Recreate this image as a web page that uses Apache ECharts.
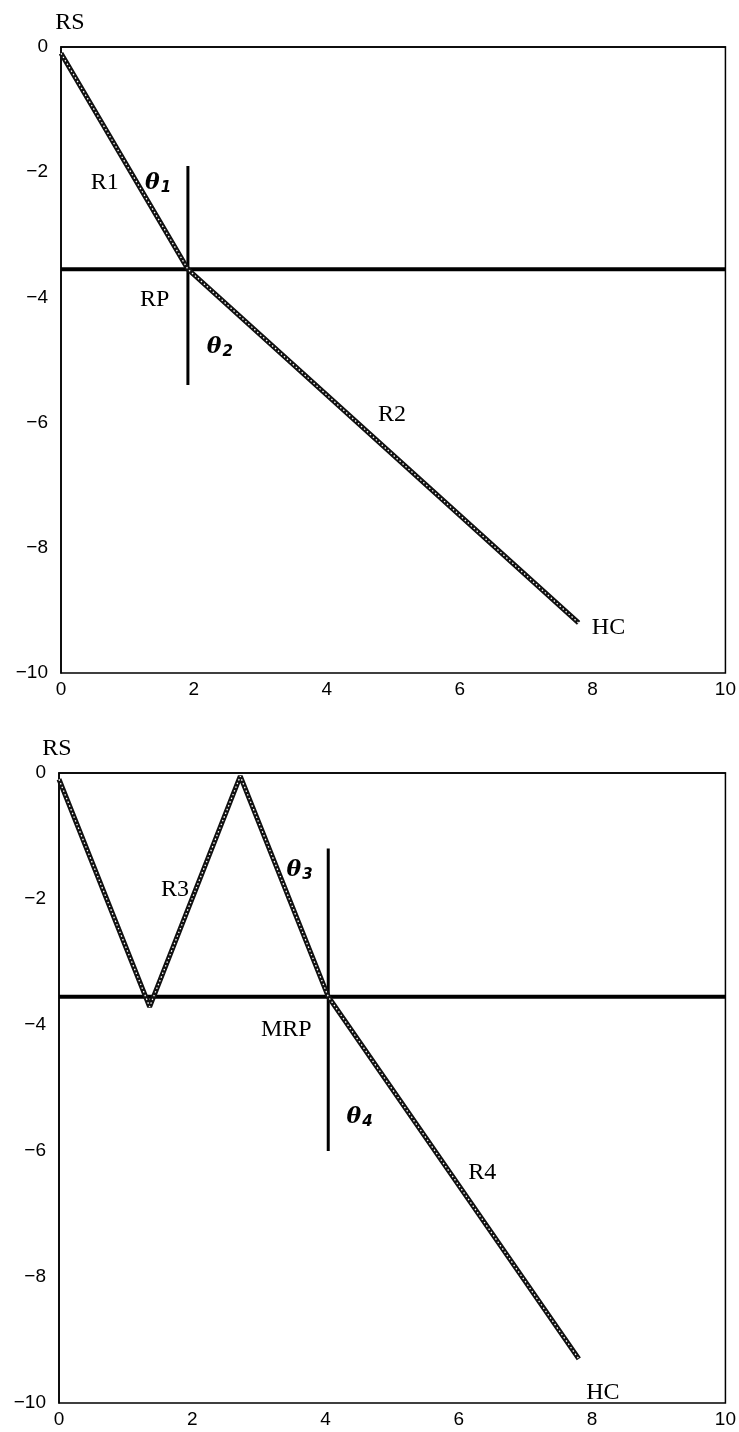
<!DOCTYPE html>
<html>
<head>
<meta charset="utf-8">
<script src="https://cdn.jsdelivr.net/npm/echarts@6/dist/echarts.min.js"></script>
<style>
  html, body { margin: 0; padding: 0; background: #fff; }
  #chart { width: 739px; height: 1432px; }
</style>
</head>
<body>
<div id="chart"></div>
<script>
// Axis ticks (both panels share the same ranges)
const xTicks = [0, 2, 4, 6, 8, 10];
const yTicks = [0, -2, -4, -6, -8, -10];

// Upper panel: RS path R1 -> RP -> R2 -> HC
const pathAX = [0, 1.91, 7.79];
const pathAY = [-0.1, -3.55, -9.2];

// Lower panel: RS path with R3 oscillation, MRP, then R4 -> HC
const pathBX = [0, 1.36, 2.72, 4.04, 7.8];
const pathBY = [-0.1, -3.71, -0.05, -3.55, -9.3];

// Reference level (horizontal line) shared by both panels
const refLevel = -3.55;

// Vertical reference lines: [x, yTop, yBottom]
const vLineA = [1.91, -1.9, -5.4];
const vLineB = [4.04, -1.2, -6.0];

// Annotations: [text, x, y]
const notesA = [
  ['R1', 0.66, -2.17], ['RP', 1.41, -4.04], ['R2', 4.98, -5.88], ['HC', 8.24, -9.28]
];
const thetaA = [['1', 1.46, -2.17], ['2', 2.39, -4.79]];
const notesB = [
  ['R3', 1.74, -1.86], ['MRP', 3.41, -4.08], ['R4', 6.35, -6.35], ['HC', 8.16, -9.83]
];
const thetaB = [['3', 3.61, -1.54], ['4', 4.51, -5.46]];

const zip = (xs, ys) => xs.map((x, i) => [x, ys[i]]);

const tickFont = { fontFamily: 'Liberation Sans, Arial, sans-serif', fontSize: 19, color: '#000' };
const serif = 'Liberation Serif, Times New Roman, serif';
const fmt = v => (v < 0 ? '\u2212' + Math.abs(v) : String(v));

function xAxisFor(gridIndex) {
  return {
    type: 'value', gridIndex, min: 0, max: 10, interval: 2,
    axisLine: { show: true, lineStyle: { color: '#000', width: 1.5 } },
    axisTick: { show: false }, splitLine: { show: false },
    axisLabel: Object.assign({ margin: 7, formatter: fmt }, tickFont)
  };
}
function yAxisFor(gridIndex, nameShift) {
  return {
    type: 'value', gridIndex, min: -10, max: 0, interval: 2,
    name: 'RS', nameLocation: 'end', nameGap: 12,
    nameTextStyle: { fontFamily: serif, fontSize: 24, color: '#000', align: 'center', padding: [0, 0, 0, nameShift] },
    axisLine: { show: true, lineStyle: { color: '#000', width: 1.5 } },
    axisTick: { show: false }, splitLine: { show: false },
    axisLabel: Object.assign({ margin: 13, formatter: fmt }, tickFont)
  };
}

function pathSeries(idx, pts) {
  return [
    { type: 'line', xAxisIndex: idx, yAxisIndex: idx, data: pts, symbol: 'none', z: 3,
      lineStyle: { color: '#111', width: 5 }, silent: true },
    { type: 'line', xAxisIndex: idx, yAxisIndex: idx, data: pts, symbol: 'none', z: 4,
      lineStyle: { color: '#ffffff', width: 1.3, type: [1.5, 2.5] }, silent: true }
  ];
}
function ruleSeries(idx, pts, width) {
  return { type: 'line', xAxisIndex: idx, yAxisIndex: idx, data: pts, symbol: 'none', z: 2,
    lineStyle: { color: '#000', width }, silent: true };
}
function noteSeries(idx, notes) {
  return { type: 'scatter', xAxisIndex: idx, yAxisIndex: idx, symbolSize: 0, z: 6, silent: true,
    itemStyle: { opacity: 1 },
    data: notes.map(n => ({ value: [n[1], n[2]], name: n[0] })),
    label: { show: true, position: 'inside', formatter: p => p.name, opacity: 1,
      fontFamily: serif, fontSize: 24, color: '#000', textBorderWidth: 0 } };
}
function thetaSeries(idx, notes) {
  return { type: 'scatter', xAxisIndex: idx, yAxisIndex: idx, symbolSize: 0, z: 6, silent: true,
    itemStyle: { opacity: 1 },
    data: notes.map(n => ({ value: [n[1], n[2]], name: n[0] })),
    label: { show: true, position: 'inside', formatter: p => '{t|θ}{s|' + p.name + '}',
      color: '#000', textBorderWidth: 0, opacity: 1,
      rich: {
        t: { fontFamily: 'DejaVu Serif, serif', fontStyle: 'italic', fontWeight: 'bold', fontSize: 22, color: '#000', textBorderWidth: 0 },
        s: { fontFamily: 'DejaVu Sans, sans-serif', fontStyle: 'italic', fontWeight: 'bold', fontSize: 15, color: '#000', textBorderWidth: 0, padding: [10, 0, 0, 1] }
      } } };
}

const option = {
  backgroundColor: '#fff',
  animation: false,
  grid: [
    { left: 61, top: 47, width: 666, height: 626, show: true, borderColor: '#000', borderWidth: 1.5, backgroundColor: 'transparent' },
    { left: 59, top: 773, width: 668, height: 630, show: true, borderColor: '#000', borderWidth: 1.5, backgroundColor: 'transparent' }
  ],
  xAxis: [xAxisFor(0), xAxisFor(1)],
  yAxis: [yAxisFor(0, 18), yAxisFor(1, -4)],
  series: [
    ruleSeries(0, [[0, refLevel], [10, refLevel]], 4),
    ruleSeries(0, [[vLineA[0], vLineA[1]], [vLineA[0], vLineA[2]]], 3),
    ...pathSeries(0, zip(pathAX, pathAY)),
    noteSeries(0, notesA),
    thetaSeries(0, thetaA),

    ruleSeries(1, [[0, refLevel], [10, refLevel]], 4),
    ruleSeries(1, [[vLineB[0], vLineB[1]], [vLineB[0], vLineB[2]]], 3),
    ...pathSeries(1, zip(pathBX, pathBY)),
    noteSeries(1, notesB),
    thetaSeries(1, thetaB)
  ]
};

const chart = echarts.init(document.getElementById('chart'), null, { renderer: 'canvas' });
chart.setOption(option);
</script>
</body>
</html>
